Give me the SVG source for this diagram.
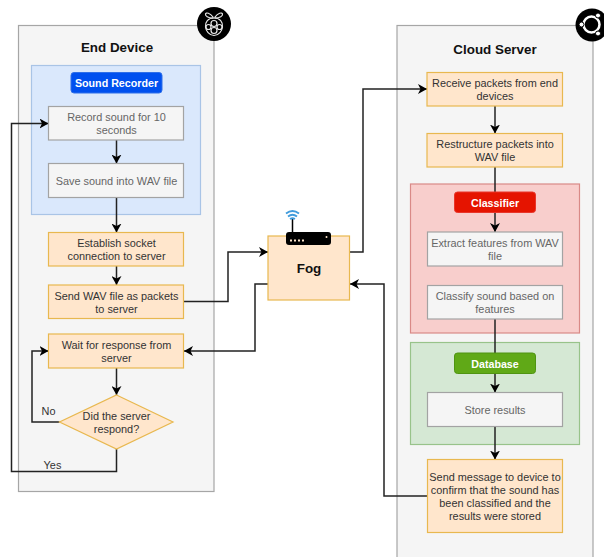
<svg xmlns="http://www.w3.org/2000/svg" width="604" height="557" viewBox="0 0 604 557">
<style>
text{font-family:"Liberation Sans",Arial,sans-serif;font-size:10.9px;text-anchor:middle}
.panel{fill:#f5f5f5;stroke:#a6a6a6;stroke-width:1.2}
.org{fill:#ffe6cc;stroke:#e8b84f;stroke-width:1.2}
.gry{fill:#f5f5f5;stroke:#a3a3a3;stroke-width:1.2}
.o{fill:#333}
.g{fill:#666}
.title{font-weight:bold;font-size:13.4px;fill:#111}
.pill{font-weight:bold;font-size:10.7px;fill:#fff}
.c{fill:none;stroke:#222;stroke-width:1.5}
.a{marker-end:url(#arr)}
</style>
<defs>
<marker id="arr" markerUnits="userSpaceOnUse" markerWidth="11" markerHeight="10" refX="9" refY="5" orient="auto"><path d="M0 0L9 5L0 10L2.5 5Z" fill="#000"/></marker>
</defs>
<g id="end-device">
<rect class="panel" x="18.5" y="25.5" width="195.5" height="466"/>
<text class="title" x="117" y="52">End Device</text>
</g>
<g id="cloud-server">
<rect class="panel" x="397" y="25.5" width="196" height="540"/>
<text class="title" x="495" y="54">Cloud Server</text>
</g>
<g id="sound-recorder-group"><rect x="31.5" y="65.5" width="169" height="149" fill="#dae8fc" stroke="#a9c4e6" stroke-width="1.2"/></g>
<g id="classifier-group"><rect x="410.5" y="184" width="169" height="149" fill="#f8cecc" stroke="#d98a87" stroke-width="1.2"/></g>
<g id="database-group"><rect x="410.5" y="342.5" width="169" height="102" fill="#d5e8d4" stroke="#98c38a" stroke-width="1.2"/></g>
<g id="connectors">
<path class="c a" d="M116.500 140V163.500"/>
<path class="c a" d="M116.500 197.500V232.500"/>
<path class="c a" d="M116.500 266V285"/>
<path class="c a" d="M116.500 368V395"/>
<path class="c a" d="M59.500 422H32V351H48.500"/>
<path class="c a" d="M116.500 449V471.500H11.500V123.500H48.500"/>
<path class="c a" d="M184 301.500H228V252H268"/>
<path class="c a" d="M268 284H255V351H184"/>
<path class="c a" d="M349.500 252H363V89H427"/>
<path class="c a" d="M427.500 496H384V284H350"/>
<path class="c a" d="M495 106V133.500"/>
<path class="c" d="M495 167V192"/>
<path class="c a" d="M495 212.500V232"/>
<path class="c" d="M495 319V353"/>
<path class="c a" d="M495 373.500V392.500"/>
<path class="c a" d="M495 426.500V459.500"/>
</g>
<g id="sound-recorder"><rect x="71" y="72.500" width="91" height="20.500" rx="3" fill="#0050ef" stroke="#2f6fe8"/><text class="pill" x="116.500" y="87">Sound Recorder</text></g>
<g id="record"><rect class="gry" x="48.500" y="106.500" width="135" height="33.500"/><text class="g" x="116.500" y="121">Record sound for 10</text><text class="g" x="116.500" y="134">seconds</text></g>
<g id="save"><rect class="gry" x="48.500" y="163.500" width="135" height="34"/><text class="g" x="116.500" y="185">Save sound into WAV file</text></g>
<g id="establish"><rect class="org" x="48.500" y="232.500" width="135" height="33.500"/><text class="o" x="116.500" y="247">Establish socket</text><text class="o" x="116.500" y="260">connection to server</text></g>
<g id="send"><rect class="org" x="48.500" y="285" width="135" height="33.500"/><text class="o" x="116.500" y="300">Send WAV file as packets</text><text class="o" x="116.500" y="313">to server</text></g>
<g id="wait"><rect class="org" x="48.500" y="334" width="135" height="34"/><text class="o" x="116.500" y="349">Wait for response from</text><text class="o" x="116.500" y="362">server</text></g>
<g id="respond"><path class="org" d="M116.500 395L173 422L116.500 449L59.500 422Z"/><text class="o" x="116.500" y="420">Did the server</text><text class="o" x="116.500" y="433">respond?</text></g>
<g id="no-label"><text class="o" x="48.500" y="415">No</text></g>
<g id="yes-label"><text class="o" x="52.500" y="469">Yes</text></g>
<g id="fog"><rect class="org" x="268" y="236" width="81.500" height="64"/><text class="title" x="309" y="273">Fog</text>
<path d="M292.500 232V218" stroke="#000" stroke-width="1.5"/>
<path d="M286 213.500Q292.500 208.500 299 213.500M288 216.500Q292.500 213 297 216.500M290 219Q292.500 217.500 295 219" fill="none" stroke="#3f9bdc" stroke-width="1.8"/>
<rect x="286" y="232" width="45" height="13" rx="3" fill="#000"/>
<path d="M290 240.500H305" stroke="#ffe6cc" stroke-width="1.8" stroke-dasharray="2 2"/>
<circle cx="326.500" cy="237" r="1" fill="#ffe6cc"/></g>
<g id="receive"><rect class="org" x="427" y="72.500" width="135.500" height="33.500"/><text class="o" x="495" y="87">Receive packets from end</text><text class="o" x="495" y="100">devices</text></g>
<g id="restructure"><rect class="org" x="427" y="133.500" width="135.500" height="33.500"/><text class="o" x="495" y="148">Restructure packets into</text><text class="o" x="495" y="161">WAV file</text></g>
<g id="classifier"><rect x="454.500" y="192" width="81" height="20.500" rx="3" fill="#e51400" stroke="#e8362a"/><text class="pill" x="495" y="206.500">Classifier</text></g>
<g id="extract"><rect class="gry" x="427.500" y="232" width="135" height="34"/><text class="g" x="495" y="247">Extract features from WAV</text><text class="g" x="495" y="260">file</text></g>
<g id="classify"><rect class="gry" x="427.500" y="285.500" width="135" height="33.500"/><text class="g" x="495" y="300">Classify sound based on</text><text class="g" x="495" y="313">features</text></g>
<g id="database"><rect x="454.500" y="353" width="81" height="20.500" rx="3" fill="#60a917" stroke="#4f9412"/><text class="pill" x="495" y="368">Database</text></g>
<g id="store"><rect class="gry" x="427.500" y="392.500" width="135" height="34"/><text class="g" x="495" y="414">Store results</text></g>
<g id="send-message"><rect class="org" x="427.500" y="459.500" width="135" height="73"/><text class="o" x="495" y="481">Send message to device to</text><text class="o" x="495" y="494">confirm that the sound has</text><text class="o" x="495" y="507">been classified and the</text><text class="o" x="495" y="520">results were stored</text></g>
<g id="raspberry-icon">
<circle cx="214" cy="24" r="17" fill="#000"/>
<g fill="none" stroke="#e8e8e8" stroke-width="1.2">
<path d="M213 17C210 13 206 12 205.500 14C205 16 208 18 213 18ZM215 17C218 13 222 12 222.500 14C223 16 220 18 215 18Z"/>
<path d="M214 18C208 18 205 22 205.500 27C206 31 209 35 214 35.500C219 35 222 31 222.500 27C223 22 220 18 214 18Z"/>
<circle cx="214" cy="23.500" r="3"/><circle cx="208.500" cy="27" r="2.500"/><circle cx="219.500" cy="27" r="2.500"/><circle cx="214" cy="30.500" r="3"/>
</g>
</g>
<g id="ubuntu-icon">
<circle cx="592" cy="25" r="16.500" fill="#000"/>
<circle cx="591.500" cy="24.500" r="8" fill="none" stroke="#fff" stroke-width="2.500"/>
<circle cx="581.500" cy="24.500" r="2.500" fill="#fff" stroke="#000"/><circle cx="598" cy="15.500" r="2.500" fill="#fff" stroke="#000"/><circle cx="598" cy="33.500" r="2.500" fill="#fff" stroke="#000"/>
</g>
</svg>
